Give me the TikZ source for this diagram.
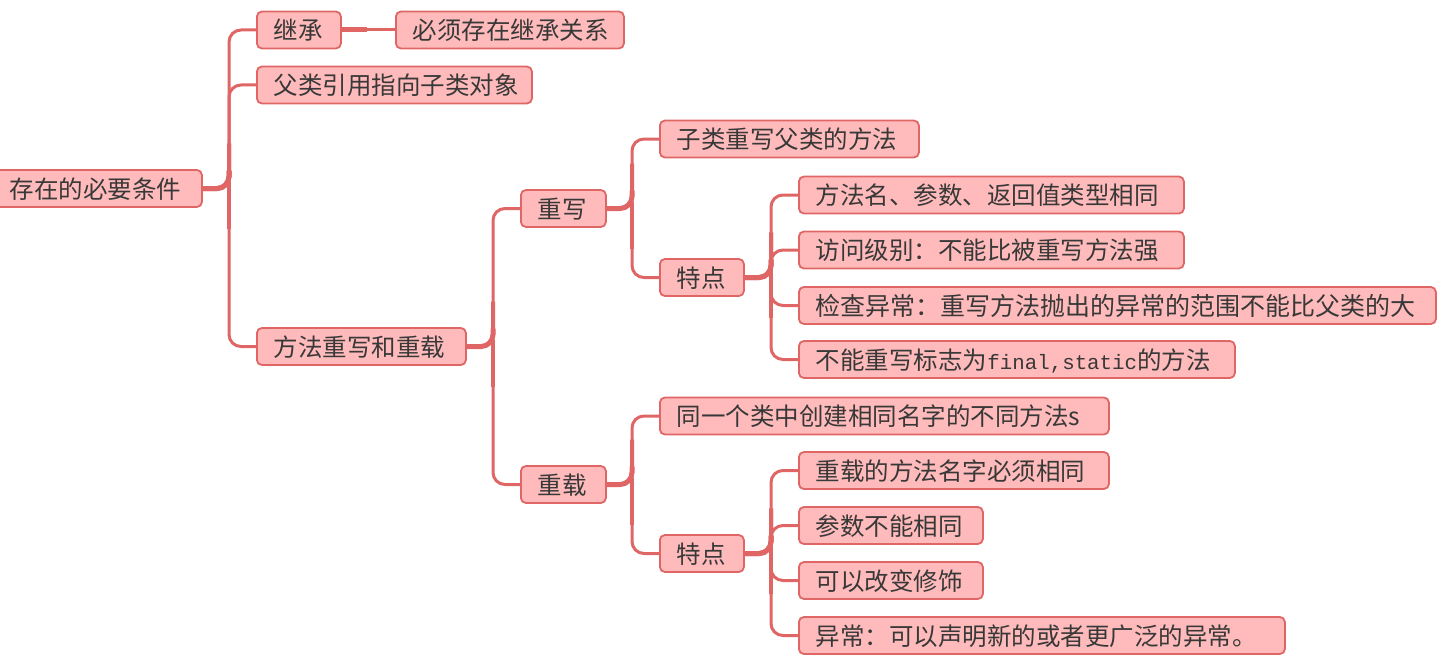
\documentclass[tikz,border=0pt]{standalone}
\usepackage{fontspec}
\setmainfont{Noto Sans CJK SC}
\setmonofont{Liberation Mono}
\usetikzlibrary{calc}
\definecolor{mmfill}{HTML}{FFBBBB}
\definecolor{mmline}{HTML}{E06666}
\definecolor{mmtext}{HTML}{383838}
\newcommand{\mmtt}[1]{{\fontsize{20.8pt}{25pt}\selectfont\ttfamily #1}}
% branch to a child above the parent: curve out of the stub
\newcommand{\mmup}[2]{%
  \path (#2.west) ++(-27,0) coordinate (mmtc) (mmtc |- #1.east) coordinate (mmta);
  \draw[mmconn] (#1.east) -| (mmtc) -- (#2.west);
  \draw[mmconn, line width=4pt] (#1.east) -| ($(mmta)!45pt!(mmtc)$);
  \draw[mmconn, line width=5pt] (#1.east) -| ($(mmta)!18pt!(mmtc)$);
}
% branch to a child below the parent: straight down from the stub corner
\newcommand{\mmdown}[2]{%
  \path (#2.west) ++(-27,0) coordinate (mmtc) (mmtc |- #1.east) coordinate (mmta);
  \draw[mmconn] ($(mmta)+(0,-7)$) -- (mmtc) -- (#2.west);
  \draw[mmconn, line width=4pt] ($(mmta)+(0,-7)$) -- ($(mmta)!40pt!(mmtc)$);
}
\tikzset{
  mmbox/.style={draw=mmline, line width=1.8pt, fill=mmfill, rounded corners=5pt,
    minimum height=37pt, inner xsep=17pt, inner ysep=0pt, text height=21pt, text depth=2pt,
    align=left, anchor=west, text=mmtext, font=\fontsize{24.5pt}{28pt}\selectfont},
  mmconn/.style={draw=mmline, line width=3pt, rounded corners=12pt},
}
\begin{document}
\begin{tikzpicture}[x=1pt,y=-1pt]
\fill[white] (0,0) rectangle (1441,661);
\useasboundingbox (0,0) rectangle (1441,661);
% nodes
\node[mmbox, text width=175pt] (root) at (-8,188.5) {存在的必要条件};
\node[mmbox, text width=50pt] (jc) at (256,30) {继承};
\node[mmbox, text width=194pt] (bx) at (395,30) {必须存在继承关系};
\node[mmbox, text width=241pt] (fl) at (256,85) {父类引用指向子类对象};
\node[mmbox, text width=175pt] (ff) at (256,346.5) {方法重写和重载};
\node[mmbox, text width=51pt] (cx) at (520,208.5) {重写};
\node[mmbox, text width=51pt] (cz) at (520,484.5) {重载};
\node[mmbox, text width=225pt] (a1) at (659,139) {子类重写父类的方法};
\node[mmbox, text width=50pt] (td1) at (659,277.5) {特点};
\node[mmbox, text width=351pt] (b1) at (798,195) {方法名、参数、返回值类型相同};
\node[mmbox, text width=351pt] (b2) at (798,250) {访问级别：不能比被重写方法强};
\node[mmbox, text width=603pt, font=\fontsize{25pt}{28pt}\selectfont] (b3) at (798,305.5) {检查异常：重写方法抛出的异常的范围不能比父类的大};
\node[mmbox, text width=402pt] (b4) at (798,359.5) {不能重写标志为\mmtt{final,static}的方法};
\node[mmbox, text width=415pt] (a2) at (659,416) {同一个类中创建相同名字的不同方法s};
\node[mmbox, text width=50pt] (td2) at (659,553.5) {特点};
\node[mmbox, text width=276pt] (c1) at (798,470.5) {重载的方法名字必须相同};
\node[mmbox, text width=150pt] (c2) at (798,525.5) {参数不能相同};
\node[mmbox, text width=150pt] (c3) at (798,580.5) {可以改变修饰};
\node[mmbox, text width=452pt] (c4) at (798,635.5) {异常：可以声明新的或者更广泛的异常。};
% connectors
\mmup{root}{jc}
\mmup{root}{fl}
\mmdown{root}{ff}
\draw[mmconn] (jc.east) -- (bx.west);
\draw[mmconn, line width=5pt] (jc.east) -- ($(jc.east)!25pt!(bx.west)$);
\mmup{ff}{cx}
\mmdown{ff}{cz}
\mmup{cx}{a1}
\mmdown{cx}{td1}
\mmup{td1}{b1}
\mmup{td1}{b2}
\mmdown{td1}{b3}
\mmdown{td1}{b4}
\mmup{cz}{a2}
\mmdown{cz}{td2}
\mmup{td2}{c1}
\mmup{td2}{c2}
\mmdown{td2}{c3}
\mmdown{td2}{c4}
\end{tikzpicture}
\end{document}
